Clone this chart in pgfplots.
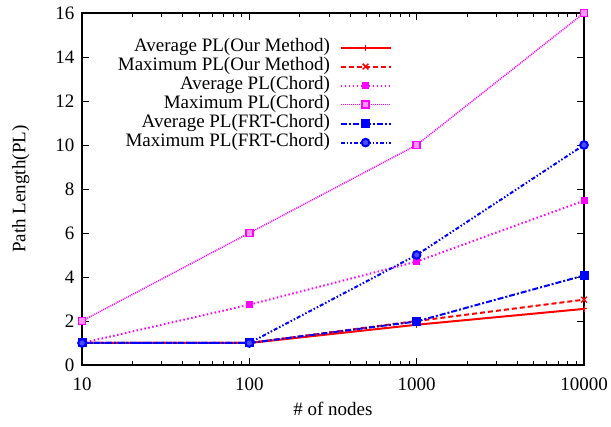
\documentclass[border=0pt]{standalone}
\usepackage{fontspec}
\setmainfont{Liberation Serif}
\usepackage{pgfplots}
\pgfplotsset{compat=1.18}
\definecolor{gred}{RGB}{255,0,0}
\definecolor{gmag}{RGB}{255,0,255}
\definecolor{gblue}{RGB}{0,0,255}
\begin{document}
\begin{tikzpicture}[font=\fontsize{19}{22}\selectfont]
\begin{axis}[
  scale only axis,
  width=502pt, height=352pt,
  xmode=log,
  xmin=10, xmax=10000,
  ymin=0, ymax=16,
  xtick={10,100,1000,10000},
  xticklabels={10,100,1000,10000},
  ytick={0,2,4,6,8,10,12,14,16},
  /pgf/number format/assume math mode=true,
  xticklabel style={yshift=-9pt},
  yticklabel style={xshift=-4pt},
  tick align=inside,
  major tick length=7pt,
  minor tick length=4pt,
  every tick/.style={black, line width=0.9pt},
  axis line style={black, line width=1.2pt},
  xlabel={\# of nodes},
  ylabel={Path Length(PL)},
  xlabel style={at={(axis description cs:0.5,-0.125)}, anchor=center},
  ylabel style={at={(axis description cs:-0.122,0.5)}, anchor=center},
  legend cell align=right,
  legend plot pos=right,
  legend style={draw=none, fill=none, at={(0.623,0.935)}, anchor=north east,
    row sep=0pt, nodes={inner xsep=9.5pt, inner ysep=0pt, text height=13pt, text depth=6pt}},
  legend image code/.code={\draw[#1, mark repeat=2, mark phase=2] plot coordinates {(0pt,0pt)(25pt,0pt)(50pt,0pt)};},
]
\addplot[gred, line width=2pt, solid, mark=+, mark size=3pt, mark options={solid, line width=1pt}]
  coordinates {(10,1)(100,1)(1000,1.83)(10000,2.55)};
\addlegendentry{Average PL(Our Method)}
\addplot[gred, line width=2pt, dash pattern=on 5pt off 3pt, mark=x, mark size=4pt, mark options={solid, line width=1.5pt}]
  coordinates {(10,1)(100,1)(1000,2)(10000,2.97)};
\addlegendentry{Maximum PL(Our Method)}
\addplot[gmag, line width=2pt, dash pattern=on 1.5pt off 2.5pt, mark=square*, mark size=2.5pt, mark options={solid}]
  coordinates {(10,1)(100,2.74)(1000,4.7)(10000,7.47)};
\addlegendentry{Average PL(Chord)}
\addplot[gmag, line width=1.5pt, dash pattern=on 1pt off 1pt, mark=square*, mark size=3.5pt, mark options={solid, fill=gmag!40, line width=1.5pt}]
  coordinates {(10,2)(100,6)(1000,10)(10000,16)};
\addlegendentry{Maximum PL(Chord)}
\addplot[gblue, line width=2pt, dash pattern=on 6pt off 2pt on 2pt off 2pt, mark=square*, mark size=3.5pt, mark options={solid}]
  coordinates {(10,1)(100,1)(1000,1.98)(10000,4.07)};
\addlegendentry{Average PL(FRT-Chord)}
\addplot[gblue, line width=2pt, dash pattern=on 4pt off 2pt on 1.5pt off 2pt on 1.5pt off 2pt, mark=*, mark size=3.8pt, mark options={solid, fill=gblue!70}]
  coordinates {(10,1)(100,1)(1000,5)(10000,10)};
\addlegendentry{Maximum PL(FRT-Chord)}
\end{axis}
\pgfresetboundingbox
\path[use as bounding box] ([shift={(-82pt,-62pt)}]current axis.south west) rectangle ([shift={(27pt,13pt)}]current axis.north east);
\end{tikzpicture}
\end{document}
